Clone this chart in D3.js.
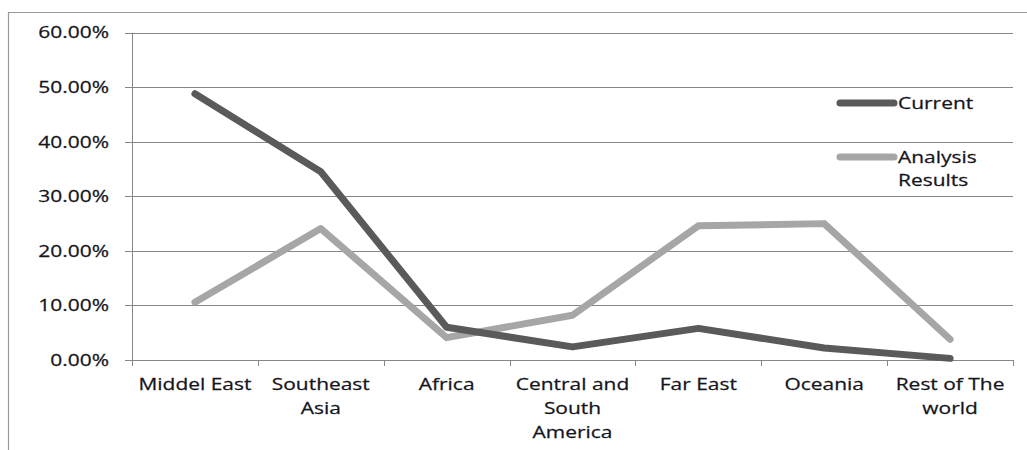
<!DOCTYPE html>
<html>
<head>
<meta charset="utf-8">
<script src="https://cdn.jsdelivr.net/npm/d3@7/dist/d3.min.js"></script>
<style>
html,body{margin:0;padding:0;background:#fff;}
svg{display:block;}
text{font-family:"Open Sans",sans-serif;font-size:16.5px;fill:#15151c;stroke:#15151c;stroke-width:0.25px;}
</style>
</head>
<body>
<svg id="chart" width="1027" height="450"></svg>
<script>
const categories = [["Middel East"],["Southeast","Asia"],["Africa"],["Central and","South","America"],["Far East"],["Oceania"],["Rest of The","world"]];
const categoryKeys = categories.map(c => c.join(" "));
const currentValues = [0.488, 0.345, 0.060, 0.024, 0.058, 0.022, 0.003];
const analysisValues = [0.106, 0.241, 0.041, 0.082, 0.246, 0.250, 0.038];
const yTicks = [0, 0.1, 0.2, 0.3, 0.4, 0.5, 0.6];
const seriesNames = [["Current"], ["Analysis","Results"]];

(function(){
const SX = 1.27;
const svg = d3.select("#chart");
const pLeft = 132, pRight = 1013, pTop = 32.7, pBottom = 360;

const x = d3.scaleBand().domain(categoryKeys).range([pLeft, pRight]);
const y = d3.scaleLinear().domain([0, 0.6]).range([pBottom, pTop]);

// outer border (left + top)
svg.append("path").attr("d", `M8.5,450 V12.5 H1027`).attr("fill","none").attr("stroke","#9a9a9a").attr("stroke-width",1.2);

// gridlines
svg.append("g").selectAll("line").data(yTicks).join("line")
  .attr("x1", pLeft - 7).attr("x2", pRight)
  .attr("y1", d => Math.round(y(d)) + 0.5).attr("y2", d => Math.round(y(d)) + 0.5)
  .attr("stroke", "#868686").attr("stroke-width", 1);

// y axis line
svg.append("line").attr("x1", pLeft+0.5).attr("x2", pLeft+0.5).attr("y1", pTop).attr("y2", pBottom + 6)
  .attr("stroke", "#868686").attr("stroke-width", 1);

// x ticks at band boundaries
const bounds = categoryKeys.map(k => x(k)).concat([pRight]);
svg.append("g").selectAll("line").data(bounds).join("line")
  .attr("x1", d => Math.round(d)+0.5).attr("x2", d => Math.round(d)+0.5)
  .attr("y1", pBottom).attr("y2", pBottom + 6)
  .attr("stroke", "#868686").attr("stroke-width", 1);

// y labels
const fmt = d3.format(".2%");
svg.append("g").selectAll("text").data(yTicks).join("text")
  .attr("transform", d => `translate(109,${y(d)}) scale(${SX},1)`)
  .attr("text-anchor", "end").attr("dy", "0.35em")
  .text(d => fmt(d));

// x labels
const xl = svg.append("g").selectAll("g").data(categories).join("g")
  .attr("transform", (d,i) => `translate(${x(categoryKeys[i]) + x.bandwidth()/2},0)`);
xl.selectAll("text").data(d => d).join("text")
  .attr("transform", (d,j) => `translate(0,${390 + j*24}) scale(${SX},1)`)
  .attr("text-anchor", "middle")
  .text(d => d);

// lines
const line = d3.line().x((d,i) => x(categoryKeys[i]) + x.bandwidth()/2).y(d => y(d));
const colors = ["#5a5a5a", "#a6a6a6"];
[[analysisValues, colors[1]], [currentValues, colors[0]]].forEach(([vals, c]) => {
  svg.append("path").datum(vals).attr("d", line)
    .attr("fill","none").attr("stroke", c).attr("stroke-width", 7)
    .attr("stroke-linejoin","round").attr("stroke-linecap","round");
});

// legend
const legY = [103, 157];
seriesNames.forEach((name, i) => {
  svg.append("line").attr("x1", 840).attr("x2", 894).attr("y1", legY[i]).attr("y2", legY[i])
    .attr("stroke", colors[i]).attr("stroke-width", 7).attr("stroke-linecap","round");
  name.forEach((t, j) => {
    svg.append("text").attr("transform", `translate(898,${legY[i] + j*23}) scale(${SX},1)`)
      .attr("dy","0.35em").text(t);
  });
});
})();
</script>
</body>
</html>
